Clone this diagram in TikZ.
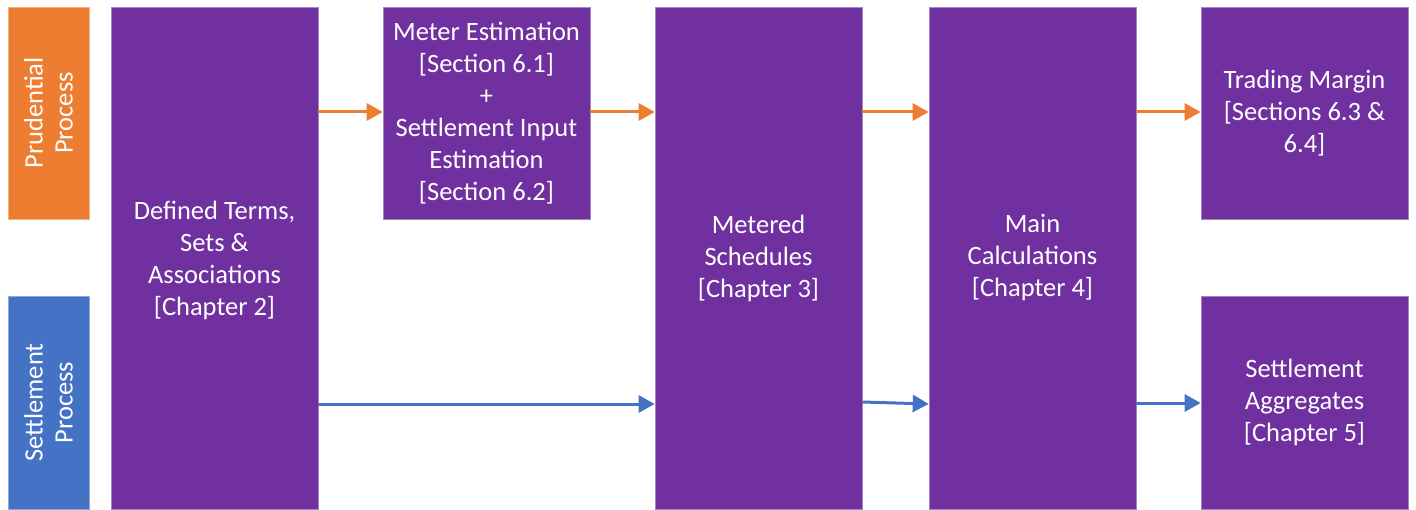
\documentclass[tikz,border=0pt]{standalone}
\usepackage{fontspec}
\setmainfont{Carlito}
\usetikzlibrary{arrows.meta}
\definecolor{purp}{HTML}{7030A0}
\definecolor{orng}{HTML}{ED7D31}
\definecolor{blu}{HTML}{4472C4}
\begin{document}
\begin{tikzpicture}[x=1pt,y=-1pt,
  box/.style={fill=purp,draw=purp!60!white,line width=0.6pt,text=white,align=center,inner sep=0pt,
    font=\fontsize{26.5}{32}\selectfont},
  side/.style={draw=#1!60!white,line width=0.6pt,fill=#1,text=white,align=center,inner sep=0pt},
  sidetext/.style={rotate=90,text=white,align=center,font=\fontsize{26.5}{30}\selectfont},
  oarr/.style={draw=orng,line width=3pt,-{Triangle[length=16pt,width=17pt]}},
  barr/.style={draw=blu,line width=3pt,-{Triangle[length=16pt,width=17pt]}}]
\useasboundingbox (0,0) rectangle (1416,510);
% side labels
\node[side=orng,minimum width=81pt,minimum height=212pt] (pp) at (48.5,113) {};
\node[sidetext] (ppt) at (pp.center) {Prudential\\Process};
\node[side=blu,minimum width=81pt,minimum height=213pt] (sp) at (48.5,402.5) {};
\node[sidetext] (spt) at (sp.center) {Settlement\\Process};
% boxes
\node[box,minimum width=207pt,minimum height=502pt] (b1) at (214.5,258) {};
\node[text=white,align=center,font=\fontsize{26.5}{32}\selectfont] (b1t) at (214.5,260) {Defined Terms,\\Sets \&\\Associations\\{[}Chapter 2]};
\node[box,minimum width=207pt,minimum height=212pt] (b2) at (486.5,113) {Meter Estimation\\{[}Section 6.1]\\+\\Settlement Input\\Estimation\\{[}Section 6.2]};
\node[box,minimum width=207pt,minimum height=502pt] (b3) at (758.5,258) {Metered\\Schedules\\{[}Chapter 3]};
\node[box,minimum width=207pt,minimum height=502pt] (b4) at (1032.5,258) {Main\\Calculations\\{[}Chapter 4]};
\node[box,minimum width=207pt,minimum height=212pt] (b5) at (1304.5,113) {Trading Margin\\{[}Sections 6.3 \&\\6.4]};
\node[box,minimum width=207pt,minimum height=213pt] (b6) at (1304.5,402.5) {Settlement\\Aggregates\\{[}Chapter 5]};
% orange arrows
\draw[oarr] (b1.east |- 0,112) -- (b2.west |- 0,112);
\draw[oarr] (b2.east |- 0,112) -- (b3.west |- 0,112);
\draw[oarr] (b3.east |- 0,112) -- (b4.west |- 0,112);
\draw[oarr] (b4.east |- 0,112) -- (b5.west |- 0,112);
% blue arrows
\draw[barr] (b1.east |- 0,404) -- (b3.west |- 0,404);
\draw[barr] (b3.east |- 0,402) -- (b4.west |- 0,404);
\draw[barr] (b4.east |- 0,403) -- (b6.west |- 0,403);
\end{tikzpicture}
\end{document}
